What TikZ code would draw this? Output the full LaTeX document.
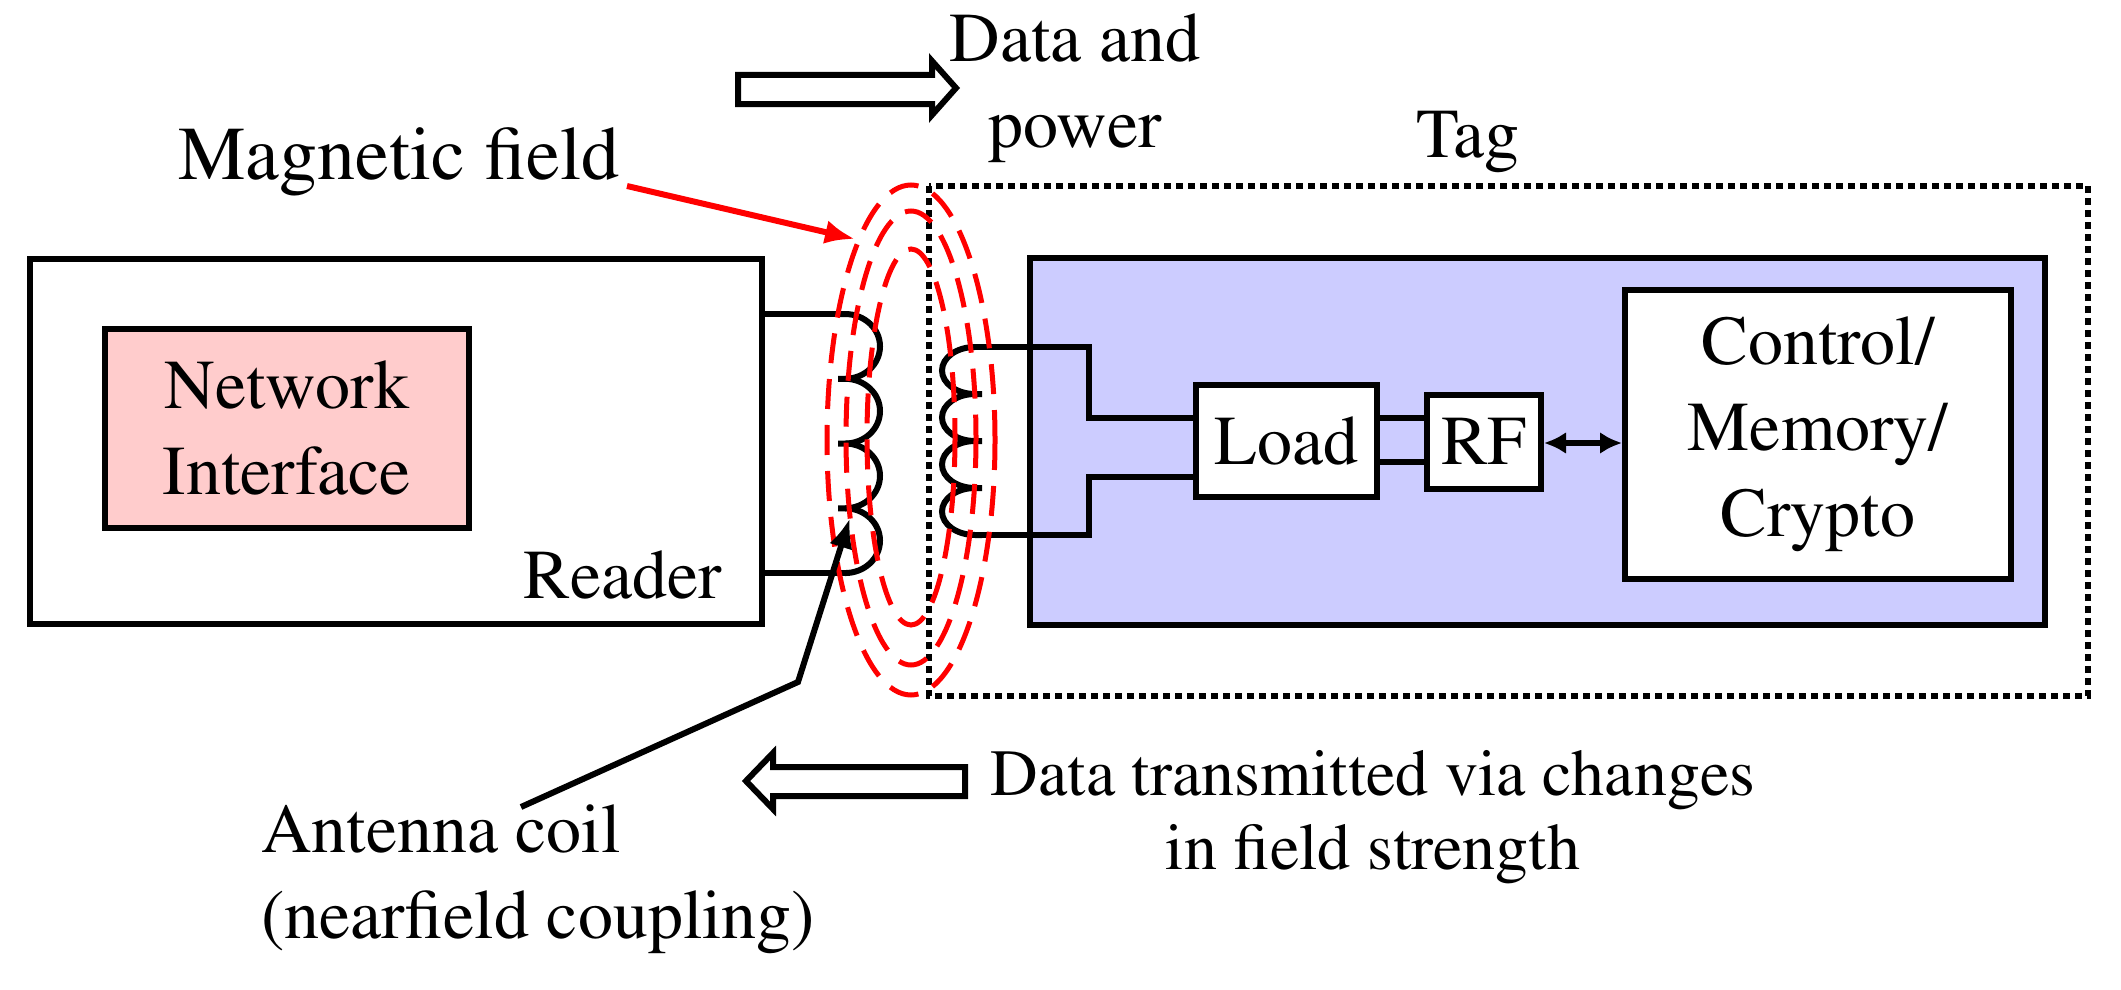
\documentclass[tikz,border=0pt]{standalone}
\usepackage[T1]{fontenc}
\usepackage{times}
\usetikzlibrary{arrows.meta}
\begin{document}
\begin{tikzpicture}[x=1pt,y=-1pt]
    \tikzset{box/.style = {draw,line width=6pt,inner sep=0pt}}
    \tikzset{txt/.style = {font=\fontsize{70pt}{86pt}\selectfont,align=center,inner sep=0pt}}
    \tikzset{wire/.style = {line width=6pt}}
    \tikzset{field/.style = {draw=red,line width=5pt,dash pattern=on 30pt off 16pt}}
    \tikzset{hollow/.style = {draw,line width=6pt,fill=white,line join=miter}}
    \useasboundingbox (0,0) rectangle (2121,990);
    % reader side
    \node[box,minimum width=732pt,minimum height=365pt] (reader) at (396,441) {};
    \node[box,fill=red!20,minimum width=364pt,minimum height=199pt,txt] (net) at (287,428) {Network\\Interface};
    \node[txt] (rlabel) at (623,575) {Reader};
    % tag side
    \draw[line width=6pt,dash pattern=on 7pt off 5pt] (929,186) rectangle (2088,696);
    \node[txt] (tlabel) at (1468,142) {Tag};
    \node[box,fill=blue!20,minimum width=1015pt,minimum height=367pt] (chip) at (1537.5,441.5) {};
    \node[box,fill=white,minimum width=386pt,minimum height=289pt,txt] (ctrl) at (1818,434.5) {Control/\\Memory/\\Crypto};
    \node[box,fill=white,minimum width=114pt,minimum height=94pt,txt] (rf) at (1484,442) {RF};
    \node[box,fill=white,minimum width=181pt,minimum height=112pt,txt] (load) at (1286.5,441) {Load};
    % reader coil
    \coordinate (r1) at (845,314);
    \coordinate (r2) at (845,573);
    \draw[wire] (reader.east |- r1) -- (r1);
    \draw[wire] (reader.east |- r2) -- (r2);
    \foreach \y in {314,378.75,443.5,508.25}
        \draw[wire] (838,\y) -- (845,\y) arc[start angle=-90,end angle=90,x radius=35,y radius=32.4];
    % tag coil
    \coordinate (t1) at (975,347);
    \coordinate (t2) at (975,535);
    \foreach \y in {347,394,441,488}
        \draw[wire] (975,\y) arc[start angle=-90,end angle=-270,x radius=33,y radius=23.5] -- (982,\y+47);
    \draw[wire] (t1) -| (1089,418) -- (load.west |- 0,418);
    \draw[wire] (t2) -| (1089,477) -- (load.west |- 0,477);
    \draw[wire] (load.east |- 0,418) -- (rf.west |- 0,418);
    \draw[wire] (load.east |- 0,462) -- (rf.west |- 0,462);
    \draw[wire,{Latex[length=22pt,width=22pt]}-{Latex[length=22pt,width=22pt]}] (rf.east |- 0,443) -- (ctrl.west |- 0,443);
    % magnetic field
    \draw[field] (911,440) ellipse[x radius=84,y radius=255];
    \draw[field] (911,438) ellipse[x radius=65,y radius=227];
    \draw[field] (911,437) ellipse[x radius=44,y radius=188];
    \node[txt,font=\fontsize{76pt}{86pt}\selectfont] (mag) at (399,162) {Magnetic field};
    \coordinate (magtip) at (855,239);
    \draw[red,line width=6pt,-{Latex[length=30pt,width=24pt]}] (627,186) -- (magtip);
    % antenna coil label
    \node[txt,align=left,anchor=north west] (ant) at (261,805) {Antenna coil\\(nearfield coupling)};
    \coordinate (bend) at (798,682);
    \coordinate (anttip) at (850,518);
    \draw[line width=6pt,-{Latex[length=30pt,width=24pt]}] (521,807) -- (bend) -- (anttip);
    % data arrows
    \draw[hollow] (738,75) -- (932,75) -- (932,61) -- (956,88) -- (932,115) -- (932,104) -- (738,104) -- cycle;
    \node[txt] (dp) at (1075,88) {Data and\\power};
    \draw[hollow] (965,767) -- (773,767) -- (773,753) -- (746,781) -- (773,809) -- (773,796) -- (965,796) -- cycle;
    \node[txt,font=\fontsize{66pt}{74pt}\selectfont] (dt) at (1373,817) {Data transmitted via changes\\in field strength};
\end{tikzpicture}
\end{document}
